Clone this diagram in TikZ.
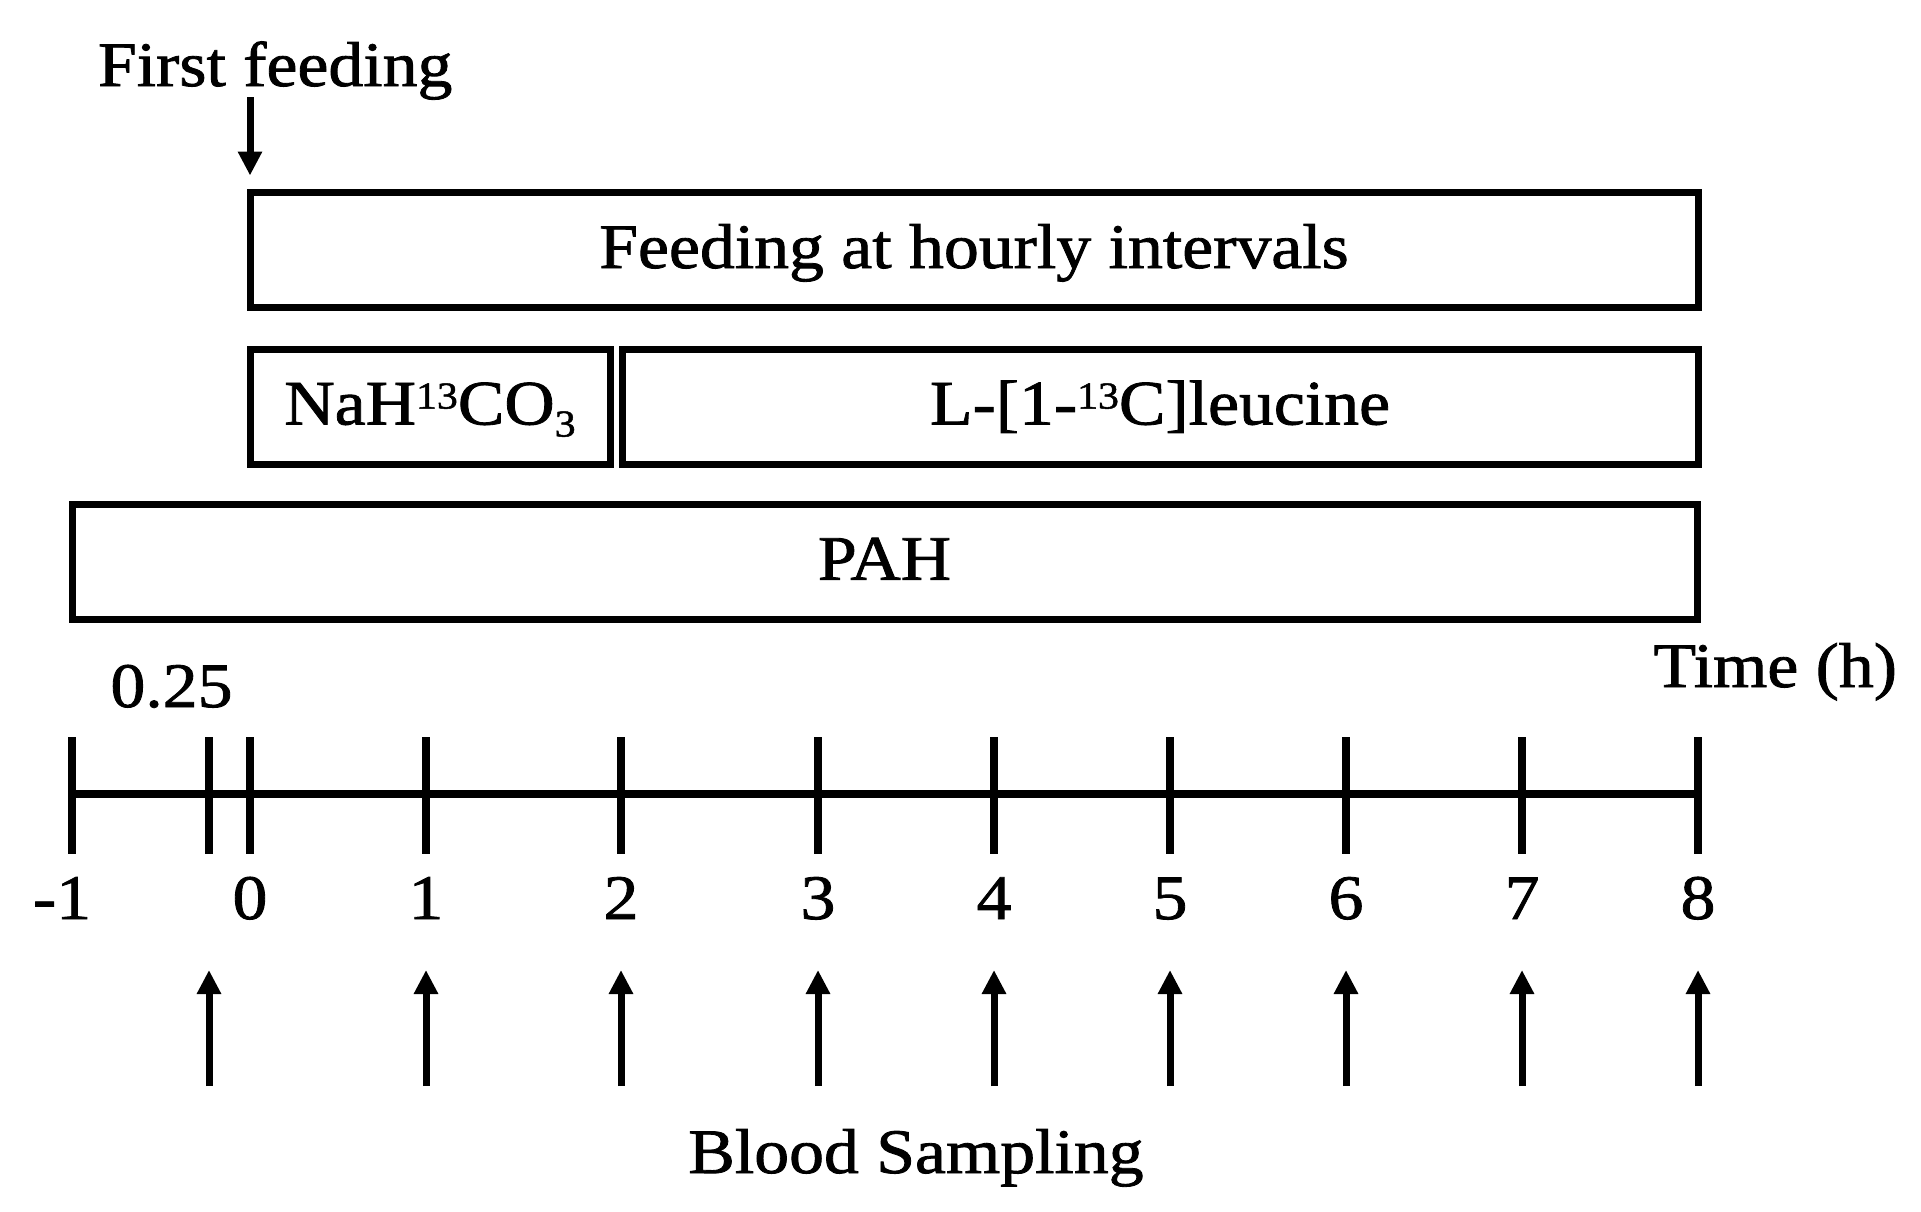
\documentclass[tikz,border=0pt]{standalone}
\usepackage{fontspec}
\setmainfont{Liberation Serif}[FakeStretch=1.1,FakeBold=1.3]
\usetikzlibrary{arrows.meta}
\newcommand\supnum[1]{\raisebox{8pt}{\fontsize{19pt}{19pt}\selectfont #1}}
\newcommand\subnum[1]{\raisebox{-6pt}{\fontsize{19pt}{19pt}\selectfont #1}}
\begin{document}
\begin{tikzpicture}[x=0.5pt,y=-0.5pt,
  txt/.style={font=\fontsize{31.7pt}{36pt}\selectfont, inner sep=0pt, outer sep=0pt},
  box/.style={txt, draw, line width=3.5pt, minimum width=#1, minimum height=57.5pt,
              text height=18pt, text depth=0pt},
  arr/.style={line width=3.5pt, -{Triangle[length=12pt,width=11.5pt]}},
  tick/.style={line width=3.7pt},
  axis/.style={line width=3.8pt}]
\useasboundingbox (0,0) rectangle (1921,1211);
% boxes
\node[box=724pt] (feed) at (974,250) {Feeding at hourly intervals};
\node[box=180pt] (nah) at (430,406.5) {NaH\supnum{13}CO\subnum{3}};
\node[box=538pt] (leu) at (1160,406.5) {L-[1-\supnum{13}C]leucine};
\node[box=812.5pt] (pah) at (884.5,561.75) {PAH};
% first feeding
\node[txt, anchor=base west] (first) at (98,86) {First feeding};
\coordinate (ffstart) at (250,97);
\draw[arr, shorten >=8.5pt] (ffstart) -- (feed.north west);
% axis
\coordinate (axL) at (72,794);
\coordinate (axR) at (1698,794);
\draw[axis] (axL) -- (axR);
\foreach \x in {72,209,250,426,621,818,994,1170,1346,1522,1698}
  \draw[tick] (\x,737) -- (\x,854);
\foreach \x/\l/\n in {62/-1/lm1,250/0/l0,426/1/l1,621/2/l2,818/3/l3,994/4/l4,1170/5/l5,1346/6/l6,1522/7/l7,1698/8/l8}
  \node[txt, anchor=base] (\n) at (\x,919) {\l};
\node[txt, anchor=base] (q) at (171.5,707) {0.25};
\node[txt, anchor=base east] (time) at (1897,687) {Time (h)};
% blood sampling arrows
\foreach \x in {209,426,621,818,994,1170,1346,1522,1698}
  \draw[arr] (\x,1086) -- (\x,970);
\node[txt, anchor=base] (blood) at (916,1173) {Blood Sampling};
\end{tikzpicture}
\end{document}
